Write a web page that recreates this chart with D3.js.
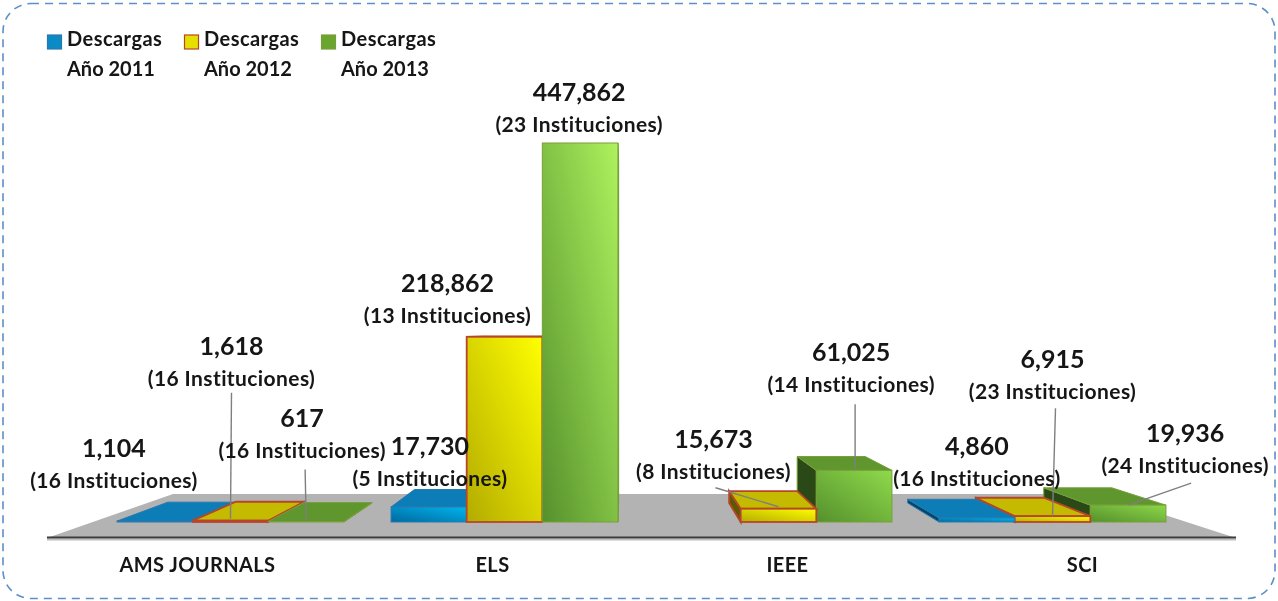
<!DOCTYPE html>
<html><head><meta charset="utf-8">
<script src="https://cdnjs.cloudflare.com/ajax/libs/d3/7.8.5/d3.min.js"></script>
<style>html,body{margin:0;padding:0;background:#fff;overflow:hidden}svg{display:block}text{font-family:Lato,"Open Sans",sans-serif;fill:#141414}</style>
</head><body><svg id="c" width="1278" height="601"></svg>
<script>
const categories = ["AMS JOURNALS","ELS","IEEE","SCI"];
const seriesNames = ["Año 2011","Año 2012","Año 2013"];
const downloads2011 = [1104,17730,null,4860];
const downloads2012 = [1618,218862,15673,6915];
const downloads2013 = [617,447862,61025,19936];
const institutions2011 = [16,5,null,16];
const institutions2012 = [16,13,8,23];
const institutions2013 = [16,23,14,24];

// label anchor offsets from the centre of each bar's front face / top edge
const labelOffsets2011 = [[-41,-64],[1,-52],null,[0,-63]];
const labelOffsets2012 = [[1,-166],[-57,-45],[-65,-61],[0,-148]];
const labelOffsets2013 = [[-4,-94],[-1,-42],[-3,-109],[57,-63]];
const leaders2012 = [[[1,-128],[0,-2]],null,[[-63,-21],[0,-2]],[[3,-108],[0,0]]];
const leaders2013 = [[[-1,-52],[0,-2]],null,[[1,-66],[1,-1]],[[63,-22],[0,0]]];

const W=1278,H=601, baseY=522, vpX=625, vpY=332, depth=0.1;
const svg=d3.select("#c");
const defs=svg.append("defs");
const colors=[
 {id:"b",dark:"#00699e",mid:"#00b4ee",light:"#00b9f5",top:"#0a7db8",side:"#04476b",stroke:"#2b78b0",legend:"#0b8ac6"},
 {id:"y",dark:"#b3ab00",mid:"#ffff00",light:"#ffff00",top:"#c4bb00",side:"#5b5a00",stroke:"#b8452a",legend:"#e6e000"},
 {id:"g",dark:"#55902c",mid:"#8ad648",light:"#aef25e",top:"#5f962d",side:"#2c4a12",stroke:"#789f3a",legend:"#6aa52e"}];
const soft=defs.append("filter").attr("id","soft").attr("x","-5%").attr("y","-5%").attr("width","110%").attr("height","110%");
soft.append("feGaussianBlur").attr("stdDeviation",0.5);
const softText=defs.append("filter").attr("id","softText").attr("filterUnits","userSpaceOnUse").attr("x",0).attr("y",0).attr("width",W).attr("height",H);
softText.append("feGaussianBlur").attr("stdDeviation",0.4);

const axisX=d3.scaleBand().domain(categories).range([50,1230]);
const x0=d3.scaleBand().domain(categories).range([93.5,1189.5]).paddingInner(0.172).paddingOuter(0.086);
const x1=d3.scaleBand().domain(d3.range(3)).range([0,x0.bandwidth()]);
const y=d3.scaleLinear().domain([0,447862]).range([baseY,143]);
const back=(px,py)=>[px+depth*(vpX-px),py+depth*(vpY-py)];
const poly=pts=>pts.map(p=>p.join(",")).join(" ");

svg.append("rect").attr("x",3).attr("y",3.5).attr("width",1272).attr("height",595).attr("rx",28)
 .attr("fill","#fff").attr("stroke","#5b8fc7").attr("stroke-width",1.6).attr("stroke-dasharray","8 6");

// floor
const plot=svg.append("g").attr("filter","url(#soft)");
plot.append("polygon").attr("points",poly([[47,538],[1236,538],[1100,494],[173,494]])).attr("fill","#b3b3b3");
plot.append("line").attr("x1",47).attr("x2",1236).attr("y1",539.5).attr("y2",539.5).attr("stroke","#bdbdbd").attr("stroke-width",2);
plot.append("line").attr("x1",47).attr("x2",1236).attr("y1",537.5).attr("y2",537.5).attr("stroke","#3a3a3a").attr("stroke-width",2);

// bars
const bars=[];
[[downloads2011,institutions2011,labelOffsets2011,null],
 [downloads2012,institutions2012,labelOffsets2012,leaders2012],
 [downloads2013,institutions2013,labelOffsets2013,leaders2013]].forEach((s,si)=>{
 categories.forEach((cat,ci)=>{
  if(s[0][ci]==null) return;
  const xa=x0(cat)+x1(si), xb=xa+x1.bandwidth();
  bars.push({cat,ci,si,v:s[0][ci],inst:s[1][ci],off:s[2][ci],lead:s[3]?s[3][ci]:null,xa,xb,yt:y(s[0][ci])});
 });
});
const order=bars.slice().sort((a,b)=>Math.abs((b.xa+b.xb)/2-vpX)-Math.abs((a.xa+a.xb)/2-vpX));
const g=plot.append("g");
order.forEach((b,i)=>{
 const c=colors[b.si];
 const FL=[b.xa,baseY],FR=[b.xb,baseY],TL=[b.xa,b.yt],TR=[b.xb,b.yt];
 const BFL=back(...FL),BFR=back(...FR),BTL=back(...TL),BTR=back(...TR);
 const sw=b.si==1?1.8:1;
 const h=Math.max(1,baseY-b.yt), w=b.xb-b.xa;
 // gradient runs corner to corner, with the two other corners at the midpoint
 const D=1/(Math.pow(0.5/w,2)+Math.pow(0.5/h,2));
 const grad=defs.append("linearGradient").attr("id","bar"+i).attr("gradientUnits","userSpaceOnUse")
  .attr("x1",b.xa).attr("y1",baseY).attr("x2",b.xa+0.5*D/w).attr("y2",baseY-0.5*D/h);
 grad.append("stop").attr("offset",0).attr("stop-color",c.dark);
 grad.append("stop").attr("offset",1).attr("stop-color",d3.interpolateRgb(c.mid,c.light)(h/379));
 if(b.xa>vpX) g.append("polygon").attr("points",poly([FL,TL,BTL,BFL])).attr("fill",c.side).attr("stroke",c.stroke).attr("stroke-width",sw);
 if(b.xb<vpX) g.append("polygon").attr("points",poly([FR,TR,BTR,BFR])).attr("fill",c.side).attr("stroke",c.stroke).attr("stroke-width",sw);
 if(b.yt>vpY) g.append("polygon").attr("points",poly([TL,TR,BTR,BTL])).attr("fill",c.top).attr("stroke",c.stroke).attr("stroke-width",sw);
 g.append("rect").attr("x",b.xa).attr("y",b.yt).attr("width",w).attr("height",Math.max(0.5,baseY-b.yt))
  .attr("fill","url(#bar"+i+")").attr("stroke",c.stroke).attr("stroke-width",sw);
});

// leaders
const fmt=d3.format(",");
bars.forEach(b=>{
 if(!b.lead) return;
 const cx=(b.xa+b.xb)/2;
 svg.append("line").attr("x1",cx+b.lead[0][0]).attr("y1",b.yt+b.lead[0][1])
  .attr("x2",cx+b.lead[1][0]).attr("y2",b.yt+b.lead[1][1])
  .attr("stroke","#7f7f7f").attr("stroke-width",1.4);
});
const tg=svg.append("g").attr("filter","url(#softText)");
// category labels
categories.forEach(cat=>{
 tg.append("text").attr("x",axisX(cat)+axisX.bandwidth()/2).attr("y",572).attr("text-anchor","middle")
  .attr("font-size",20).attr("font-weight",700).attr("letter-spacing",0.4).text(cat);
});
// data labels
bars.forEach(b=>{
 const cx=(b.xa+b.xb)/2+b.off[0], yy=b.yt+b.off[1];
 tg.append("text").attr("x",cx).attr("y",yy).attr("text-anchor","middle").attr("font-size",25).attr("font-weight",700).text(fmt(b.v));
 tg.append("text").attr("x",cx).attr("y",yy+31).attr("text-anchor","middle").attr("font-size",21).attr("font-weight",700).attr("letter-spacing",0.4).text("("+b.inst+" Instituciones)");
});
// legend
const legendX=d3.scalePoint().domain(seriesNames).range([47,321]);
seriesNames.forEach((n,i)=>{
 const lx=legendX(n), c=colors[i];
 svg.append("rect").attr("x",lx+0.5).attr("y",35).attr("width",14).attr("height",14)
  .attr("fill",c.legend).attr("stroke",c.stroke).attr("stroke-width",1.2);
 tg.append("text").attr("x",lx+20).attr("y",46).attr("font-size",20).attr("font-weight",700).attr("letter-spacing",0.45).text("Descargas");
 tg.append("text").attr("x",lx+20).attr("y",76).attr("font-size",20).attr("font-weight",700).text(n);
});
</script></body></html>
